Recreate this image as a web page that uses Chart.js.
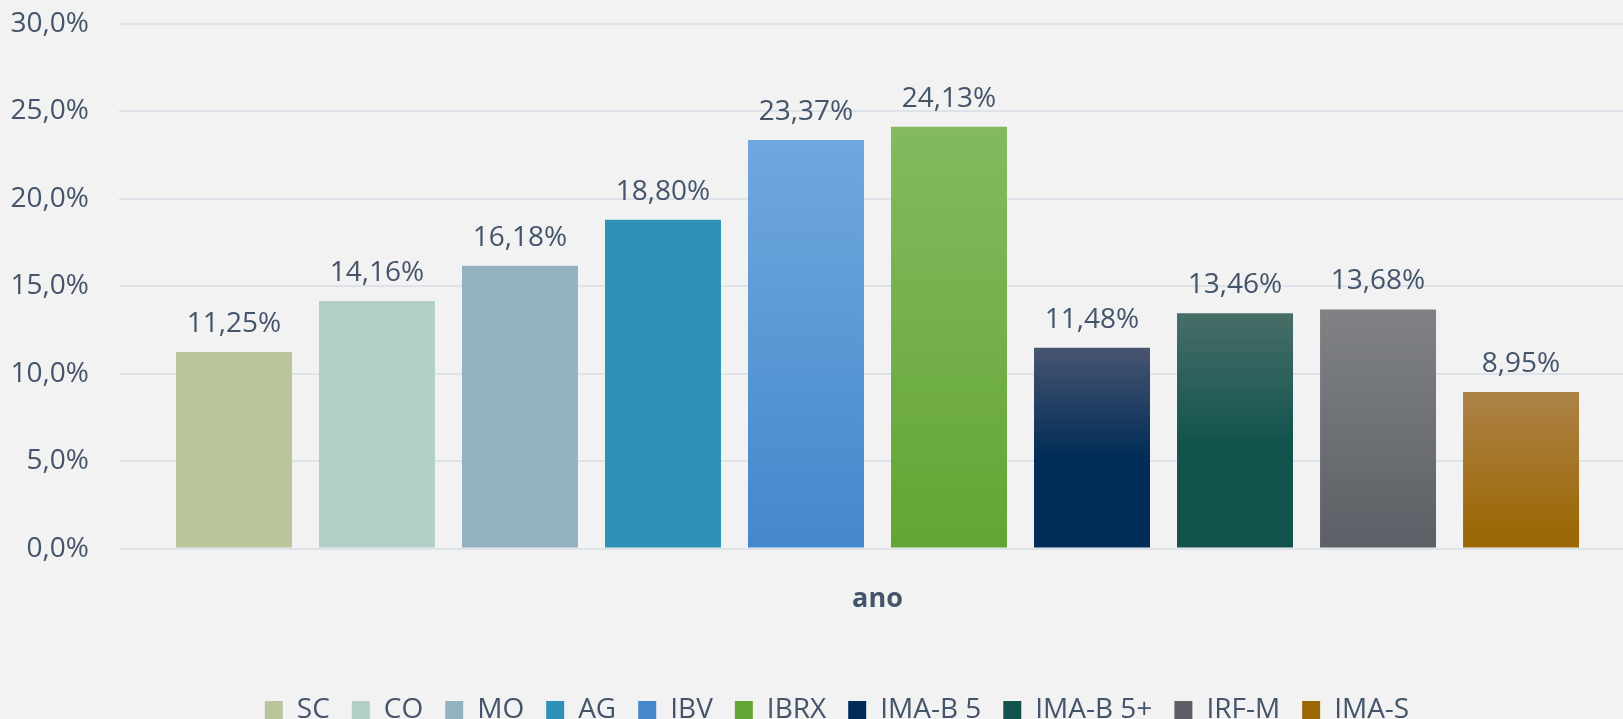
<!DOCTYPE html>
<html>
<head>
<meta charset="utf-8">
<script src="https://cdn.jsdelivr.net/npm/chart.js@4/dist/chart.umd.min.js"></script>
<style>
  html, body { margin: 0; padding: 0; background: #F2F2F2; overflow: hidden; }
  #wrap { position: relative; width: 1640px; height: 719px; }
</style>
</head>
<body>
<div id="wrap"><canvas id="chart"></canvas></div>
<script>
// data
const categories = ['ano'];
const seriesNames = ['SC', 'CO', 'MO', 'AG', 'IBV', 'IBRX', 'IMA-B 5', 'IMA-B 5+', 'IRF-M', 'IMA-S'];
const seriesValues = [11.25, 14.16, 16.18, 18.80, 23.37, 24.13, 11.48, 13.46, 13.68, 8.95];
const yTicks = [0, 5, 10, 15, 20, 25, 30];

const textColor = '#44546A';

// [top colour, bottom colour, where the bottom colour starts]
const fills = [
    ['#B9C59A', '#B9C59A', 1],
    ['#B2D0C7', '#B2D0C7', 1],
    ['#94B1C2', '#94B1C2', 1],
    ['#2E92B7', '#2E92B7', 1],
    ['#6FA8DE', '#4487CC', 1],
    ['#83BA60', '#63A534', 1],
    ['#485470', '#002C57', 0.55],
    ['#486E69', '#12534E', 0.55],
    ['#808286', '#5C5F65', 1],
    ['#AC8246', '#9C6806', 0.9]
];

function fmtPct(v, digits) {
    return v.toFixed(digits).replace('.', ',') + '%';
}

function barFill(f) {
    return function (context) {
        const chart = context.chart;
        if (!chart.chartArea || context.raw === undefined) return f[1];
        const y = chart.scales.y;
        const top = y.getPixelForValue(context.raw);
        const base = y.getPixelForValue(0);
        if (!isFinite(top) || !isFinite(base) || base <= top) return f[1];
        const g = chart.ctx.createLinearGradient(0, top, 0, base);
        g.addColorStop(0, f[0]);
        g.addColorStop(f[2], f[1]);
        g.addColorStop(1, f[1]);
        return g;
    };
}

const datasets = seriesNames.map((name, i) => ({
    label: name,
    data: [seriesValues[i]],
    backgroundColor: barFill(fills[i]),
    borderWidth: 0,
    categoryPercentage: 0.9427,
    barPercentage: 0.811
}));

// value labels above each bar
const valueLabels = {
    id: 'valueLabels',
    afterDatasetsDraw(chart) {
        const ctx = chart.ctx;
        ctx.save();
        ctx.font = '28px "Open Sans"';
        ctx.fillStyle = textColor;
        ctx.textAlign = 'center';
        ctx.textBaseline = 'alphabetic';
        chart.data.datasets.forEach((ds, i) => {
            const meta = chart.getDatasetMeta(i);
            meta.data.forEach((bar, j) => {
                ctx.fillText(fmtPct(ds.data[j], 2), bar.x, bar.y - 20);
            });
        });
        ctx.restore();
    }
};

// the legend sits a little right of the canvas centre
const legendShift = {
    id: 'legendShift',
    afterLayout(chart) {
        chart.legend.left += 19;
        chart.legend.right += 19;
    }
};

new Chart(document.getElementById('chart'), {
    type: 'bar',
    data: { labels: categories, datasets: datasets },
    options: {
        responsive: true,
        maintainAspectRatio: false,
        animation: false,
        layout: { padding: { top: 24, right: 4, bottom: -15, left: 0 } },
        plugins: {
            legend: {
                position: 'bottom',
                labels: {
                    color: textColor,
                    font: { family: 'Open Sans', size: 28 },
                    boxWidth: 18,
                    boxHeight: 18,
                    padding: 22
                }
            },
            tooltip: { enabled: false }
        },
        scales: {
            x: {
                grid: { display: false },
                border: { display: false },
                afterFit(scale) { scale.height += 31; },
                ticks: {
                    color: textColor,
                    font: { family: 'Open Sans', size: 27, weight: 'bold' },
                    padding: 27
                }
            },
            y: {
                min: 0,
                max: 30,
                afterFit(scale) { scale.width = 119; },
                afterBuildTicks(scale) {
                    scale.ticks = yTicks.map(v => ({ value: v }));
                },
                grid: {
                    color: '#DEE3EA',
                    lineWidth: 2,
                    drawTicks: true,
                    tickLength: 30,
                    tickColor: 'rgba(0,0,0,0)'
                },
                border: { display: false },
                ticks: {
                    color: textColor,
                    font: { family: 'Open Sans', size: 28 },
                    padding: 0,
                    callback: v => fmtPct(v, 1)
                }
            }
        }
    },
    plugins: [valueLabels, legendShift]
});
</script>
</body>
</html>
